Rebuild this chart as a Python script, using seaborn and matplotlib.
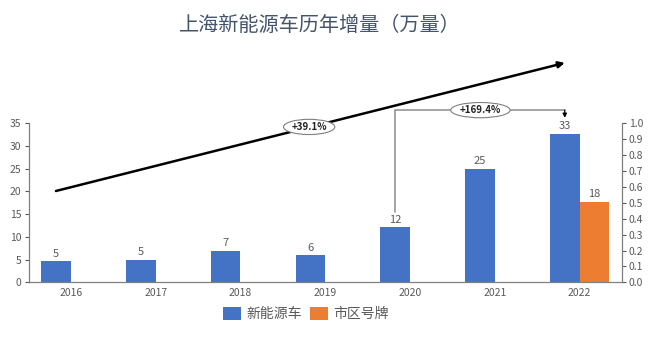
import numpy as np
import pandas as pd
import matplotlib
matplotlib.use("Agg")
import matplotlib.pyplot as plt
from matplotlib.patches import Patch
import seaborn as sns

# Annual increase of new-energy vehicles in Shanghai (10k units)
years = ["2016", "2017", "2018", "2019", "2020", "2021", "2022"]
nev_values = [4.6, 4.9, 7.0, 5.9, 12.1, 24.9, 32.6]
plate_values = [np.nan, np.nan, np.nan, np.nan, np.nan, np.nan, 17.7]
series_names = ["新能源车", "市区号牌"]
growth_labels = ["+39.1%", "+169.4%"]
title = "上海新能源车历年增量（万量）"

BLUE = "#4472C4"
ORANGE = "#ED7D31"
TEXT = "#595959"
AXIS = "#808080"

df = pd.DataFrame({
    "year": years * 2,
    "value": nev_values + plate_values,
    "series": [series_names[0]] * len(years) + [series_names[1]] * len(years),
})

sns.set_theme(style="white")
plt.rcParams["font.family"] = ["Noto Sans CJK SC", "DejaVu Sans"]

fig = plt.figure(figsize=(6.6, 3.44), dpi=100)
ax = fig.add_axes([28.5 / 660, 1 - 282.3 / 344, (622 - 28.5) / 660, (282.3 - 123.3) / 344])

sns.barplot(data=df, x="year", y="value", hue="series", hue_order=series_names,
            palette=[BLUE, ORANGE], width=0.70, errorbar=None, saturation=1,
            legend=False, linewidth=0, ax=ax)

ax.set_xlim(-0.5, len(years) - 0.5)
ax.set_ylim(0, 35)
ax.set_yticks(np.arange(0, 36, 5))
ax.set_xlabel("")
ax.set_ylabel("")
ax.tick_params(axis="y", labelsize=7.5, colors=TEXT, length=3, width=0.8,
               direction="out", left=True, pad=2)
ax.tick_params(axis="x", labelsize=7.5, colors=TEXT, length=0, pad=4)
for side in ["top", "right"]:
    ax.spines[side].set_visible(False)
for side in ["left", "bottom"]:
    ax.spines[side].set_color(AXIS)
    ax.spines[side].set_linewidth(0.9)

# Value labels on bars
for cont in ax.containers:
    vals = [b.get_height() for b in cont]
    labels = ["" if np.isnan(v) else f"{v:.0f}" for v in vals]
    ax.bar_label(cont, labels=labels, fontsize=8, color=TEXT, padding=2)

# Secondary axis on the right
ax2 = ax.twinx()
ax2.set_ylim(0, 1.0)
ax2.set_yticks(np.round(np.arange(0, 1.01, 0.1), 1))
ax2.set_yticklabels([f"{t:.1f}" for t in np.arange(0, 1.01, 0.1)])
ax2.tick_params(axis="y", labelsize=7.5, colors=TEXT, length=3, width=0.8,
                direction="out", right=True, pad=2)
for side in ["top", "left", "bottom"]:
    ax2.spines[side].set_visible(False)
ax2.spines["right"].set_color(AXIS)
ax2.spines["right"].set_linewidth(0.9)
ax2.grid(False)
ax.grid(False)

# Blue bar centres (left half of each dodged group)
bar_x = np.array([b.get_x() + b.get_width() / 2 for b in ax.containers[0]])

# Overall trend arrow
ax.annotate("", xy=(bar_x[-1], 48.3), xytext=(-0.176, 20.1),
            xycoords="data", textcoords="data", annotation_clip=False,
            arrowprops=dict(arrowstyle="-|>", color="black", lw=1.8,
                            mutation_scale=9, shrinkA=0, shrinkB=0))
ax.text(2.81, 34.2, growth_labels[0], ha="center", va="center", fontsize=7,
        fontweight="bold", color="#222222", clip_on=False, zorder=5,
        bbox=dict(boxstyle="ellipse,pad=0.04", fc="white", ec="#7f7f7f", lw=0.8))

# 2020 -> 2022 growth bracket
i0, i1 = years.index("2020"), years.index("2022")
top_y = 37.9
ax.plot([bar_x[i0], bar_x[i0], bar_x[i1]],
        [nev_values[i0] + 3.4, top_y, top_y],
        color="#8c8c8c", lw=1.1, clip_on=False, solid_joinstyle="miter")
ax.annotate("", xy=(bar_x[i1], nev_values[i1] + 3.6), xytext=(bar_x[i1], top_y),
            annotation_clip=False,
            arrowprops=dict(arrowstyle="-|>", color="black", lw=0.9,
                            mutation_scale=6, shrinkA=0, shrinkB=0))
ax.text(4.83, top_y, growth_labels[1], ha="center", va="center", fontsize=7,
        fontweight="bold", color="#222222", clip_on=False, zorder=5,
        bbox=dict(boxstyle="ellipse,pad=0.04", fc="white", ec="#7f7f7f", lw=0.8))

# Title
fig.text(0.485, 0.927, title, ha="center", va="center", fontsize=14.5,
         color="#44546A")

# Legend
handles = [Patch(facecolor=BLUE, edgecolor="none", label=series_names[0]),
           Patch(facecolor=ORANGE, edgecolor="none", label=series_names[1])]
fig.legend(handles=handles, loc="center", bbox_to_anchor=(306 / 660, 1 - 314 / 344),
           ncol=2, frameon=False, fontsize=10, handlelength=1.3, handleheight=1.1,
           handletextpad=0.35, columnspacing=0.6, labelcolor=TEXT)

fig.savefig("out.png", dpi=100, facecolor="white")
